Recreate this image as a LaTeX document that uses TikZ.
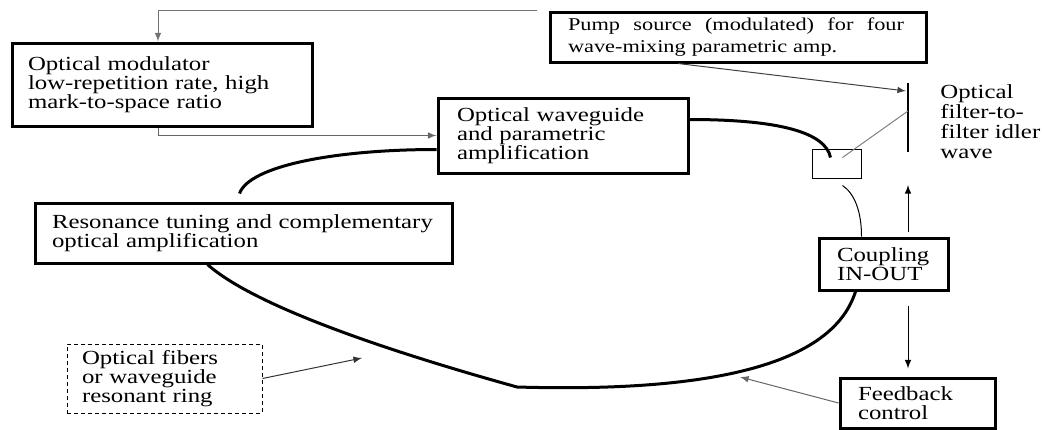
\documentclass[tikz,border=0pt]{standalone}
\usepackage{fontspec}
\setmainfont{Liberation Serif}[FakeStretch=1.24]
\usetikzlibrary{arrows}
\usetikzlibrary{calc,positioning}

\begin{document}
\begin{tikzpicture}[x=0.5pt,y=-0.5pt,>=latex]
	\tikzstyle{box}=[draw, line width=1.5pt, rectangle, align=left, inner sep=0pt,
	font=\fontsize{10}{9.6}\selectfont]
	\tikzstyle{dashbox}=[box, line width=0.5pt, dash pattern=on 2pt off 1.5pt]
	\tikzstyle{link}=[->, line width=0.5pt]
	\tikzstyle{ring}=[line width=1.5pt]
	\useasboundingbox (0,0) rectangle (1042,429);
	% blocks
	\node[box, minimum width=150pt, minimum height=41.5pt, text width=134pt] (modl) at (162,84.5)
	{Optical modulator\\ low-repetition rate, high\\ mark-to-space ratio};
	\node[box, font=\fontsize{9}{11}\selectfont, minimum width=188pt, minimum height=25pt, text width=170pt] (pump) at (738,37)
	{\hbox to 168pt{Pump\hfill source\hfill (modulated)\hfill for\hfill four}\\ wave-mixing parametric amp.};
	\node[box, minimum width=125pt, minimum height=37.5pt, text width=106pt] (wguide) at (563,135.5)
	{Optical waveguide\\ and parametric\\ amplification};
	\node[box, minimum width=208.5pt, minimum height=30pt, text width=191.5pt] (reson) at (243.5,233)
	{Resonance tuning and complementary\\ optical amplification};
	\node[dashbox, minimum width=97.5pt, minimum height=34.5pt, text width=82.5pt] (fiber) at (164.5,378.5)
	{Optical fibers\\ or waveguide\\ resonant ring};
	\node[box, minimum width=64.5pt, minimum height=26pt, text width=46.5pt] (coupl) at (883.5,264)
	{Coupling\\ IN-OUT};
	\node[box, minimum width=77.5pt, minimum height=25pt, text width=59.5pt] (fdbk) at (917.5,403)
	{Feedback\\ control};
	\node[draw, line width=0.5pt, minimum width=24.5pt, minimum height=14.5pt, inner sep=0pt] (filt) at (836.5,163.5) {};
	\node[align=left, anchor=west, inner sep=0pt, font=\fontsize{10}{10}\selectfont] (flbl) at (940,121.5)
	{Optical\\ filter-to-\\ filter idler\\ wave};
	% filter and ring points
	\coordinate (ftop) at (908,83);
	\coordinate (fbot) at (908,152);
	\coordinate (fmid) at (908,111);
	\coordinate (fpin) at (906,91);
	\coordinate (upend) at (908,185);
	\coordinate (ringbot) at (517,387);
	\coordinate (ringfb) at (740,377);
	\coordinate (ringfib) at (362,358);
	% resonant ring
	\draw[ring] ([xshift=-2pt,yshift=4pt]reson.north) .. controls +(10,-28) and +(-100,0) .. ([yshift=-7pt]wguide.west);
	\draw[ring] ([yshift=8pt]wguide.east) .. controls +(90,0) and +(-5,-25) .. ([xshift=-3pt,yshift=3pt]filt.center);
	\draw[ring] ([xshift=-18pt]reson.south) .. controls +(53,47) and +(-97,-27) .. (ringbot)
	.. controls +(173,5) and +(-25,80) .. ([xshift=-14pt]coupl.south);
	\draw[line width=0.5pt] ([xshift=3pt,yshift=-3.5pt]filt.south) .. controls +(12,8) and +(0,-25) .. ([xshift=-11pt]coupl.north);
	% filter
	\draw[line width=0.6pt] (ftop) -- (fbot);
	\draw[line width=0.5pt, black!50] ([xshift=3pt,yshift=3pt]filt.center) -- (fmid);
	% arrows
	\draw[link, black!55] ([xshift=-6pt]pump.north west) -| ([xshift=-2pt]modl.north);
	\draw[link, black!60] ([xshift=-2pt]modl.south) |- (wguide.west);
	\draw[link, black!75] ([xshift=-30pt]pump.south) -- (fpin);
	\draw[link] ([xshift=12.25pt,yshift=2.5pt]coupl.north) -- (upend);
	\draw[link] ([xshift=12.25pt,yshift=-7pt]coupl.south) -- ([xshift=-4.75pt,yshift=4pt]fdbk.north);
	\draw[link, black!60] (fdbk.west) -- (ringfb);
	\draw[link, black!80] (fiber.east) -- (ringfib);
\end{tikzpicture}
\end{document}
